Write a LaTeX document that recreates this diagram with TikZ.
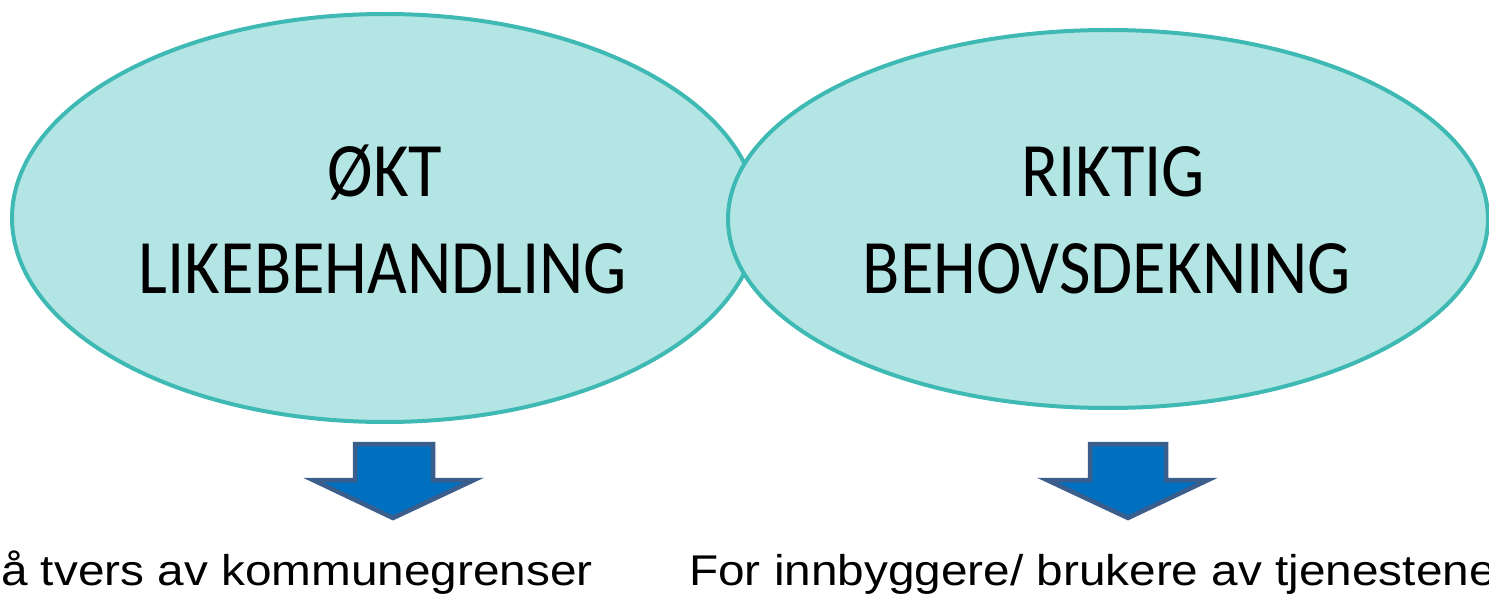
\documentclass[tikz,border=0pt]{standalone}
\usepackage{fontspec}
\usetikzlibrary{shapes.geometric}
\setmainfont{Carlito}
\newfontfamily\bubblefont[FakeStretch=0.89]{Carlito}
\newfontfamily\notefont[FakeStretch=1.11]{Liberation Sans}
\definecolor{bubblefill}{HTML}{B3E5E4}
\definecolor{bubbleline}{HTML}{3FB9B4}
\definecolor{arrowfill}{HTML}{0070C0}
\definecolor{arrowline}{HTML}{3B5E8C}
\begin{document}
\begin{tikzpicture}[x=1pt,y=-1pt,
  bubble/.style={ellipse, draw=bubbleline, fill=bubblefill, line width=4pt, inner sep=0pt},
  bubbletext/.style={anchor=base, inner sep=0pt, font=\bubblefont\fontsize{77}{96}\selectfont},
  notetext/.style={anchor=base west, inner sep=0pt, font=\notefont\fontsize{43}{50}\selectfont},
  blockarrow/.style={draw=arrowline, fill=arrowfill, line width=4.5pt, line join=miter}]
\useasboundingbox (0,0) rectangle (1489,596);
\clip (0,0) rectangle (1489,596);

% the two overlapping goals
\node[bubble, minimum width=746pt, minimum height=408pt] (likebeh) at (385,218) {};
\node[bubble, minimum width=760pt, minimum height=378pt] (behov) at (1108,219) {};

\node[bubbletext] (okt) at (385,197) {ØKT};
\node[bubbletext] (likebehtxt) at (383,293) {LIKEBEHANDLING};
\node[bubbletext] (riktig) at (1113,197) {RIKTIG};
\node[bubbletext] (behovtxt) at (1107,293) {BEHOVSDEKNING};

% block arrows pointing down to the explanations
\coordinate (tipL) at (393,518);
\coordinate (tipR) at (1128,518);
\draw[blockarrow] (tipL) -- ++(81,-38) -- ++(-41,0) -- ++(0,-36) -- ++(-78,0)
  -- ++(0,36) -- ++(-42,0) -- cycle;
\draw[blockarrow] (tipR) -- ++(80,-38) -- ++(-42,0) -- ++(0,-36) -- ++(-76,0)
  -- ++(0,36) -- ++(-43,0) -- cycle;

% explanations
\node[notetext] (noteL) at (1,585) {å tvers av kommunegrenser};
\node[notetext] (noteR) at (689,585) {For innbyggere/ brukere av tjenestene};
\end{tikzpicture}
\end{document}
